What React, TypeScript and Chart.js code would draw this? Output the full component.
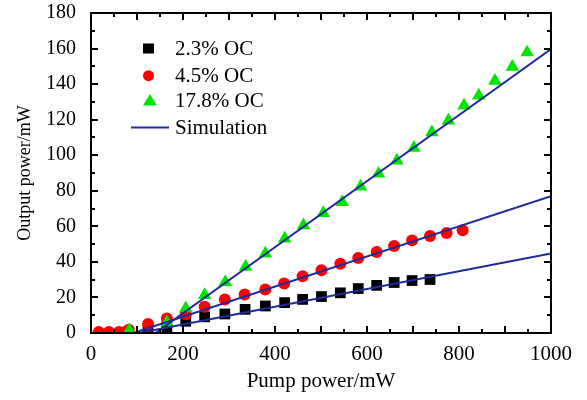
import React, { useEffect, useRef } from 'react';
import { Chart, registerables } from 'chart.js';

Chart.register(...registerables);

// ---- data ----
const xTicks = [0, 200, 400, 600, 800, 1000];
const yTicks = [0, 20, 40, 60, 80, 100, 120, 140, 160, 180];

const oc23X = [80, 124, 165, 206, 247, 291, 335, 379, 421, 460, 501, 542, 581, 621, 659, 698, 737];
const oc23Y = [0.5, 1.5, 3.6, 6.6, 9.1, 10.7, 13.3, 15.2, 17.1, 18.9, 20.5, 22.6, 25.0, 26.8, 28.4, 29.5, 30.1];

const oc45X = [17, 39, 61, 82, 124, 165, 206, 247, 291, 334, 379, 420, 460, 501, 542, 581, 621, 659, 698, 737, 773, 808];
const oc45Y = [0.5, 0.5, 0.5, 1.8, 5.1, 8.2, 10.6, 14.8, 18.9, 21.7, 24.5, 27.8, 31.9, 35.3, 38.9, 42.2, 45.6, 49.0, 52.1, 54.6, 56.3, 57.8];

const oc178X = [83, 165, 206, 247, 292, 336, 379, 421, 462, 505, 546, 586, 625, 665, 702, 741, 777, 811, 843, 878, 916, 948];
const oc178Y = [1.5, 6.0, 13.9, 21.3, 28.7, 37.2, 44.7, 53.1, 60.6, 67.5, 73.6, 82.4, 89.6, 97.0, 104.2, 112.9, 119.5, 127.9, 133.5, 141.9, 149.7, 157.8];

const sim23X = [104, 1000];
const sim23Y = [0, 44.7];
const sim45X = [92, 1000];
const sim45Y = [0, 77];
const sim178X = [140, 1000];
const sim178Y = [0, 159.7];

const labels = ['2.3% OC', '4.5% OC', '17.8% OC', 'Simulation'];

const zip = (xs: number[], ys: number[]) => xs.map((x, i) => ({ x, y: ys[i] }));

const BLUE = '#1f2a9c';
const GREEN = '#00e600';
const RED = '#ff0000';
const BLACK = '#000000';
const FONT = '"Liberation Serif", "Times New Roman", serif';

const framePlugin = {
  id: 'frameTicks',
  afterDraw(chart: any) {
    const { ctx, chartArea, scales } = chart;
    const { left, right, top, bottom } = chartArea;
    const x = scales.x;
    const y = scales.y;
    ctx.save();
    ctx.strokeStyle = '#000';
    ctx.lineWidth = 2;
    ctx.beginPath();
    for (let v = 0; v <= 1000; v += 50) {
      const px = Math.round(x.getPixelForValue(v));
      const len = v % 100 === 0 ? 7 : 4;
      ctx.moveTo(px, bottom);
      ctx.lineTo(px, bottom - len);
      ctx.moveTo(px, top);
      ctx.lineTo(px, top + len);
    }
    for (let v = 0; v <= 180; v += 10) {
      const py = Math.round(y.getPixelForValue(v));
      const len = v % 20 === 0 ? 7 : 4;
      ctx.moveTo(left, py);
      ctx.lineTo(left + len, py);
      ctx.moveTo(right, py);
      ctx.lineTo(right - len, py);
    }
    ctx.stroke();
    ctx.lineWidth = 2;
    ctx.strokeRect(left, top, right - left, bottom - top);

    // legend
    const mx = left + 57.5;
    const tx = left + 84;
    const rows = [35.5, 62.7, 87.5, 114.5].map((d) => top + d);
    ctx.font = `21px ${FONT}`;
    ctx.textBaseline = 'middle';
    ctx.textAlign = 'left';
    // square
    ctx.fillStyle = BLACK;
    ctx.fillRect(mx - 5.5, rows[0] - 5, 11, 10);
    // circle
    ctx.fillStyle = RED;
    ctx.beginPath();
    ctx.arc(mx, rows[1], 5.5, 0, Math.PI * 2);
    ctx.fill();
    // triangle
    ctx.fillStyle = GREEN;
    ctx.beginPath();
    ctx.moveTo(mx + 1.5, rows[2] - 6.5);
    ctx.lineTo(mx + 1.5 + 7, rows[2] + 5);
    ctx.lineTo(mx + 1.5 - 7, rows[2] + 5);
    ctx.closePath();
    ctx.fill();
    // line
    ctx.strokeStyle = BLUE;
    ctx.lineWidth = 2;
    ctx.beginPath();
    ctx.moveTo(left + 40, rows[3]);
    ctx.lineTo(left + 78, rows[3]);
    ctx.stroke();
    ctx.fillStyle = '#000';
    labels.forEach((t, i) => ctx.fillText(t, tx, rows[i] + 1));
    ctx.restore();
  },
};

export default function App() {
  const ref = useRef<HTMLCanvasElement | null>(null);
  useEffect(() => {
    if (!ref.current) return;
    Chart.defaults.font.family = FONT;
    Chart.defaults.color = '#000';
    const lineDs = (xs: number[], ys: number[]) => ({
      label: labels[3],
      data: zip(xs, ys),
      showLine: true,
      borderColor: BLUE,
      borderWidth: 2,
      pointRadius: 0,
      fill: false,
      order: 0,
      clip: 0,
    });
    const chart = new Chart(ref.current, {
      type: 'scatter',
      data: {
        datasets: [
          lineDs(sim23X, sim23Y),
          lineDs(sim45X, sim45Y),
          lineDs(sim178X, sim178Y),
          {
            label: labels[2],
            data: zip(oc178X, oc178Y),
            pointStyle: 'triangle',
            pointRadius: 7.8,
            backgroundColor: GREEN,
            borderColor: GREEN,
            borderWidth: 0,
            order: 1,
            clip: 0,
          },
          {
            label: labels[1],
            data: zip(oc45X, oc45Y),
            pointStyle: 'circle',
            pointRadius: 6,
            backgroundColor: RED,
            borderColor: RED,
            borderWidth: 0,
            order: 2,
            clip: 0,
          },
          {
            label: labels[0],
            data: zip(oc23X, oc23Y),
            pointStyle: 'rect',
            pointRadius: 7.6,
            backgroundColor: BLACK,
            borderColor: BLACK,
            borderWidth: 0,
            order: 3,
            clip: 0,
          },
        ] as any,
      },
      options: {
        animation: false,
        responsive: false,
        devicePixelRatio: 1,
        layout: { padding: { top: 13, right: 36, left: 0, bottom: 0 } },
        plugins: { legend: { display: false }, tooltip: { enabled: false } },
        scales: {
          x: {
            type: 'linear',
            min: 0,
            max: 1000,
            afterBuildTicks: (s: any) => {
              s.ticks = xTicks.map((v) => ({ value: v }));
            },
            afterFit: (s: any) => {
              s.height = 67;
              s.paddingLeft = 0;
              s.paddingRight = 0;
            },
            ticks: {
              padding: 9,
              maxRotation: 0,
              font: { size: 21 },
              color: '#000',
              callback: (v: any) => String(v),
            },
            grid: { display: false, drawTicks: false },
            border: { display: false },
            title: {
              display: true,
              text: 'Pump power/mW',
              color: '#000',
              font: { size: 21 },
              padding: { top: 0, bottom: 6 },
            },
          },
          y: {
            type: 'linear',
            min: 0,
            max: 180,
            afterBuildTicks: (s: any) => {
              s.ticks = yTicks.map((v) => ({ value: v }));
            },
            afterFit: (s: any) => {
              s.width = 91;
              s.paddingTop = 0;
              s.paddingBottom = 0;
            },
            ticks: { padding: 15, font: { size: 20 }, color: '#000', callback: (v: any) => String(v) },
            grid: { display: false, drawTicks: false },
            border: { display: false },
            title: {
              display: true,
              text: 'Output power/mW',
              color: '#000',
              font: { size: 18 },
              padding: { top: 14, bottom: 0 },
            },
          },
        },
      },
      plugins: [framePlugin],
    });
    return () => chart.destroy();
  }, []);
  return (
    <div style={{ position: 'fixed', left: 0, top: 0, width: 587, height: 400, background: '#fff' }}>
      <canvas ref={ref} width={587} height={400} style={{ display: 'block', width: 587, height: 400 }} />
    </div>
  );
}
